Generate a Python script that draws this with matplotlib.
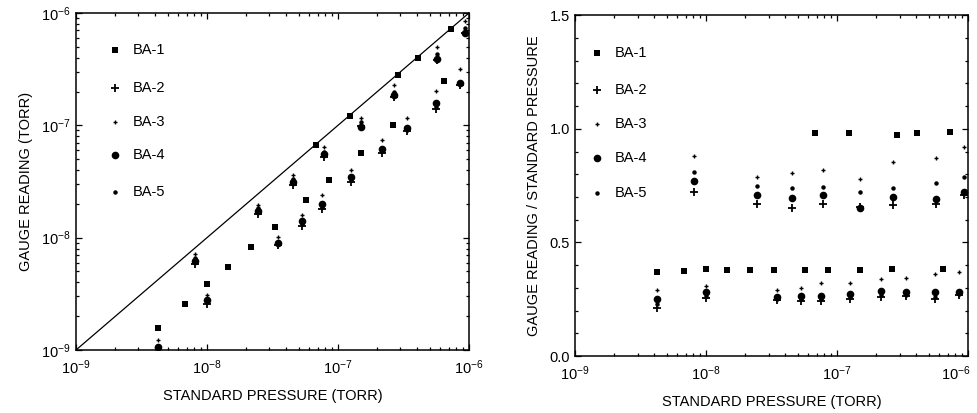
import numpy as np
import matplotlib
matplotlib.use("Agg")
import matplotlib.pyplot as plt
from matplotlib.ticker import (FixedLocator, LogLocator, MultipleLocator,
                               FormatStrFormatter, NullFormatter)
from matplotlib.transforms import ScaledTranslation

plt.rcParams['font.family'] = ['Liberation Sans', 'DejaVu Sans']
plt.rcParams['mathtext.default'] = 'regular'
plt.rcParams['axes.unicode_minus'] = False

# standard pressures (torr) and gauge/standard ratios
ba1_pressure = [4.23e-9, 6.79e-9, 1.0e-8, 1.45e-8, 2.17e-8, 3.3e-8, 5.7e-8, 8.53e-8,
                1.5e-7, 2.63e-7, 6.44e-7,
                6.79e-8, 1.24e-7, 2.87e-7, 4.08e-7, 7.3e-7]
ba1_ratio = [0.37, 0.375, 0.385, 0.38, 0.38, 0.38, 0.38, 0.38, 0.38, 0.385, 0.385,
             0.98, 0.98, 0.975, 0.98, 0.985]

std_pressure = [4.23e-9, 1.0e-8, 3.48e-8, 5.31e-8, 7.55e-8, 1.26e-7, 2.17e-7, 3.36e-7,
                5.6e-7, 8.53e-7,
                8.09e-9, 2.45e-8, 4.53e-8, 7.81e-8, 1.5e-7, 2.67e-7, 5.7e-7, 9.31e-7]
ba2_ratio = [0.21, 0.255, 0.245, 0.24, 0.24, 0.25, 0.26, 0.265, 0.25, 0.27,
             0.72, 0.67, 0.65, 0.67, 0.655, 0.665, 0.67, 0.71]
ba3_ratio = [0.29, 0.31, 0.29, 0.30, 0.32, 0.32, 0.34, 0.345, 0.36, 0.37,
             0.88, 0.79, 0.805, 0.82, 0.78, 0.855, 0.87, 0.92]
ba4_ratio = [0.25, 0.28, 0.26, 0.265, 0.265, 0.275, 0.285, 0.28, 0.28, 0.28,
             0.77, 0.71, 0.695, 0.71, 0.65, 0.70, 0.69, 0.72]
ba5_ratio = [0.23, 0.265, 0.25, 0.25, 0.25, 0.26, 0.27, 0.27, 0.26, 0.275,
             0.81, 0.75, 0.74, 0.745, 0.72, 0.74, 0.76, 0.79]

decades = [1e-9, 1e-8, 1e-7, 1e-6]
labels = ['BA-1', 'BA-2', 'BA-3', 'BA-4', 'BA-5']
styles = [dict(marker='s', ms=5, mew=0),
          dict(marker='+', ms=6, mew=1.3),
          dict(marker='+', ms=3.5, mew=1.0),
          dict(marker='o', ms=5.5, mew=0),
          dict(marker='o', ms=3.2, mew=0)]

series = [(ba1_pressure, ba1_ratio),
          (std_pressure, ba2_ratio),
          (std_pressure, ba3_ratio),
          (std_pressure, ba4_ratio),
          (std_pressure, ba5_ratio)]

fig = plt.figure(figsize=(9.78, 4.13), dpi=100, facecolor='white')
ax1 = fig.add_axes([0.0777, 0.1525, 0.4018, 0.816])
ax2 = fig.add_axes([0.588, 0.1380, 0.4018, 0.825])

for (p, r), st in zip(series, styles):
    p = np.array(p)
    r = np.array(r)
    ax1.plot(p, p * r, ls='none', color='black', mec='black', mfc='black', **st)
    ax2.plot(p, r, ls='none', color='black', mec='black', mfc='black', **st)

# ideal response line
ax1.plot(decades, decades, color='black', lw=0.9)

minor = [m * d for d in decades[:-1] for m in range(2, 10)]

for ax in (ax1, ax2):
    ax.set_xscale('log')
    ax.set_xlim(1e-9, 1e-6)
    ax.xaxis.set_major_locator(FixedLocator(decades))
    ax.xaxis.set_minor_locator(FixedLocator(minor))
    ax.xaxis.set_minor_formatter(NullFormatter())
    ax.tick_params(which='both', direction='in', top=True, right=True,
                   labelsize=10.5, width=0.9)
    ax.tick_params(which='major', length=4)
    ax.tick_params(which='minor', length=2.5)
    ax.tick_params(axis='x', pad=6)
    for s in ax.spines.values():
        s.set_linewidth(1.1)
    ax.set_xlabel('STANDARD PRESSURE (TORR)', fontsize=10.5, labelpad=9)

ax1.set_yscale('log')
ax1.set_ylim(1e-9, 1e-6)
ax1.yaxis.set_major_locator(FixedLocator(decades))
ax1.yaxis.set_minor_locator(FixedLocator(minor))
ax1.yaxis.set_minor_formatter(NullFormatter())
ax1.set_ylabel('GAUGE READING (TORR)', fontsize=10.5, labelpad=6)

ax2.set_ylim(0, 1.5)
ax2.yaxis.set_major_locator(MultipleLocator(0.5))
ax2.yaxis.set_minor_locator(MultipleLocator(0.1))
ax2.yaxis.set_major_formatter(FormatStrFormatter('%.1f'))
ax2.set_ylabel('GAUGE READING / STANDARD PRESSURE', fontsize=10.5, labelpad=6)

# legends drawn by hand, marker column then label column
leg1_y = [0.890, 0.777, 0.677, 0.579, 0.469]
leg2_y = [0.888, 0.782, 0.682, 0.582, 0.479]
for lab, st, y1, y2 in zip(labels, styles, leg1_y, leg2_y):
    ax1.plot([0.099], [y1], transform=ax1.transAxes, ls='none', color='black',
             mec='black', mfc='black', **st)
    ax1.text(0.145, y1, lab, transform=ax1.transAxes, va='center', ha='left', fontsize=10.5)
    ax2.plot([0.056], [y2], transform=ax2.transAxes, ls='none', color='black',
             mec='black', mfc='black', **st)
    ax2.text(0.102, y2, lab, transform=ax2.transAxes, va='center', ha='left', fontsize=10.5)

# pull the last tick label of the right panel inside the figure
fig.canvas.draw()
for tick in ax2.xaxis.get_major_ticks():
    if np.isclose(tick.get_loc(), 1e-6):
        tick.label1.set_transform(tick.label1.get_transform() +
                                  ScaledTranslation(-9 / 72, 0, fig.dpi_scale_trans))

plt.savefig('out.png', dpi=100, facecolor='white')
plt.close()
